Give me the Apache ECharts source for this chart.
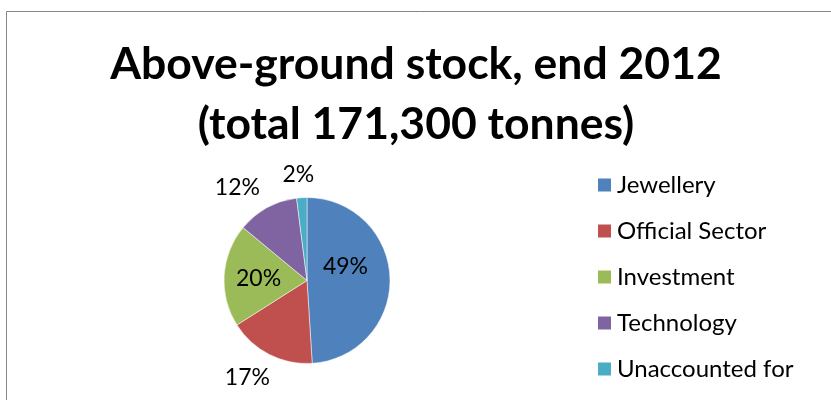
<!DOCTYPE html>
<html><head><meta charset="utf-8">
<script src="https://cdn.jsdelivr.net/npm/echarts@6/dist/echarts.min.js"></script>
<style>html,body{margin:0;padding:0;background:#fff}#c{width:831px;height:400px}</style>
</head><body><div id="c"></div>
<script>
const titleLines = ['Above-ground stock, end 2012', '(total 171,300 tonnes)'];
const categories = ['Jewellery', 'Official Sector', 'Investment', 'Technology', 'Unaccounted for'];
const shares = [49, 17, 20, 12, 2];
const colors = ['#4F81BD', '#C0504D', '#9BBB59', '#8064A2', '#4BACC6'];
const labelPos = ['inside', 'outside', 'inside', 'outside', 'outside'];
const labelOffsets = [[-6, -13], [12, 1], [-4, 1], [5, 2], [14, 2]];

const FONT = 'Lato, "Open Sans", sans-serif';
const chart = echarts.init(document.getElementById('c'), null, {renderer: 'canvas'});
chart.setOption({
  animation: false,
  color: colors,
  graphic: [{
    type: 'rect', silent: true,
    shape: {x: 6.5, y: 11.5, width: 900, height: 600},
    style: {fill: 'none', stroke: '#868686', lineWidth: 1}
  }],
  title: {
    text: titleLines.join('\n'),
    left: 411, textAlign: 'center', top: 30,
    textStyle: {fontFamily: FONT, fontWeight: 'bold', fontSize: 44.5, lineHeight: 60, color: '#000'}
  },
  legend: {
    orient: 'vertical', left: 591, top: 167,
    icon: 'rect', itemWidth: 15, itemHeight: 15, itemGap: 20,
    textStyle: {fontFamily: FONT, fontSize: 24, lineHeight: 26, color: '#000'},
    data: categories
  },
  series: [{
    type: 'pie',
    center: [307, 280.5], radius: 83,
    startAngle: 90, clockwise: true,
    avoidLabelOverlap: false,
    itemStyle: {borderColor: '#fff', borderWidth: 0.5},
    labelLine: {show: false, length: 25, length2: 0},
    label: {fontFamily: FONT, fontSize: 23, color: '#000', distanceToLabelLine: 0},
    data: categories.map((n, i) => ({
      name: n, value: shares[i],
      label: {position: labelPos[i], offset: labelOffsets[i], formatter: shares[i] + '%'}
    }))
  }]
});
</script></body></html>
